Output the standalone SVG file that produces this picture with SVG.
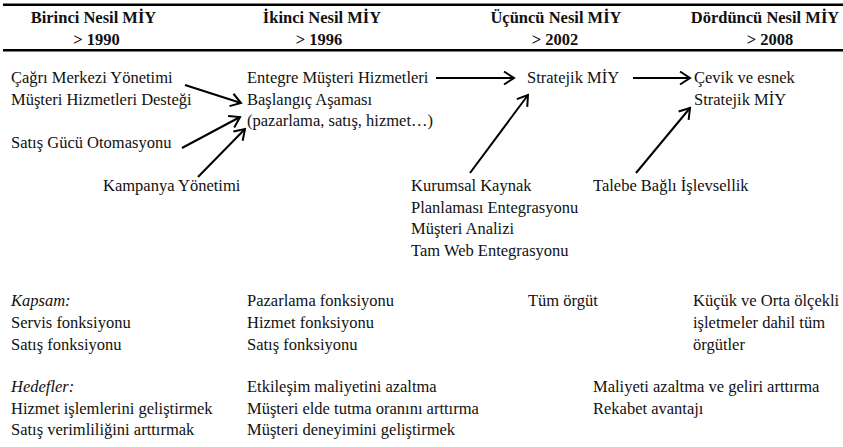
<svg xmlns="http://www.w3.org/2000/svg" width="843" height="447" viewBox="0 0 843 447">
<defs>
<style>
text{font-family:"Liberation Serif","Times New Roman",serif;font-size:16.5px;fill:#111}
.h{font-weight:bold;text-anchor:middle}
.i{font-style:italic}
.rule{stroke:#000;stroke-width:2.4}
.c line{stroke:#000;stroke-width:2;marker-end:url(#ah)}
</style>
<marker id="ah" markerUnits="userSpaceOnUse" viewBox="-12 -8 14 16" markerWidth="14" markerHeight="16" refX="0" refY="0" orient="auto">
<path d="M-10,-6.5 L0,0 L-10,6.5" fill="none" stroke="#000" stroke-width="2"/>
</marker>
</defs>
<rect width="843" height="447" fill="#fff"/>
<g id="header">
<line class="rule" x1="3" y1="4.8" x2="843" y2="4.8"/>
<line class="rule" x1="3" y1="50.2" x2="843" y2="50.2"/>
<text class="h" x="93.5" y="22.5">Birinci Nesil MİY</text>
<text class="h" x="96.5" y="45">&gt; 1990</text>
<text class="h" x="322" y="22.5">İkinci Nesil MİY</text>
<text class="h" x="319" y="45">&gt; 1996</text>
<text class="h" x="556" y="22.5">Üçüncü Nesil MİY</text>
<text class="h" x="555" y="45">&gt; 2002</text>
<text class="h" x="765" y="22.5">Dördüncü Nesil MİY</text>
<text class="h" x="770" y="45">&gt; 2008</text>
</g>
<g id="n-cagri"><text x="11" y="83">Çağrı Merkezi Yönetimi</text><text x="11" y="104.5">Müşteri Hizmetleri Desteği</text></g>
<g id="n-satisgucu"><text x="11" y="147.5">Satış Gücü Otomasyonu</text></g>
<g id="n-kampanya"><text x="103" y="191">Kampanya Yönetimi</text></g>
<g id="n-entegre"><text x="247" y="83">Entegre Müşteri Hizmetleri</text></g>
<g id="n-baslangic"><text x="247" y="104.5">Başlangıç Aşaması</text><text x="247" y="126">(pazarlama, satış, hizmet…)</text></g>
<g id="n-stratejik"><text x="527" y="83">Stratejik MİY</text></g>
<g id="n-cevik"><text x="694" y="83">Çevik ve esnek</text><text x="694" y="104.5">Stratejik MİY</text></g>
<g id="n-kurumsal"><text x="411" y="191">Kurumsal Kaynak</text><text x="411" y="212.5">Planlaması Entegrasyonu</text><text x="411" y="234">Müşteri Analizi</text><text x="411" y="255.5">Tam Web Entegrasyonu</text></g>
<g id="n-talebe"><text x="593" y="191">Talebe Bağlı İşlevsellik</text></g>
<g id="kapsam">
<text class="i" x="11" y="306">Kapsam:</text>
<text x="11" y="328">Servis fonksiyonu</text>
<text x="11" y="350">Satış fonksiyonu</text>
<text x="247" y="306">Pazarlama fonksiyonu</text>
<text x="247" y="328">Hizmet fonksiyonu</text>
<text x="247" y="350">Satış fonksiyonu</text>
<text x="528" y="306">Tüm örgüt</text>
<text x="693" y="306">Küçük ve Orta ölçekli</text>
<text x="693" y="328">işletmeler dahil tüm</text>
<text x="693" y="350">örgütler</text>
</g>
<g id="hedefler">
<text class="i" x="11" y="392">Hedefler:</text>
<text x="11" y="413.5">Hizmet işlemlerini geliştirmek</text>
<text x="11" y="435">Satış verimliliğini arttırmak</text>
<text x="247" y="392">Etkileşim maliyetini azaltma</text>
<text x="247" y="413.5">Müşteri elde tutma oranını arttırma</text>
<text x="247" y="435">Müşteri deneyimini geliştirmek</text>
<text x="593" y="392">Maliyeti azaltma ve geliri arttırma</text>
<text x="593" y="413.5">Rekabet avantajı</text>
</g>
<g id="connectors" class="c">
<line x1="185" y1="85" x2="241" y2="103"/>
<line x1="182" y1="148" x2="240" y2="117"/>
<line x1="198" y1="177" x2="245" y2="129"/>
<line x1="436" y1="78" x2="514" y2="78"/>
<line x1="633" y1="78" x2="690" y2="78"/>
<line x1="470" y1="173" x2="528" y2="95"/>
<line x1="636" y1="173" x2="690" y2="108"/>
</g>
</svg>
